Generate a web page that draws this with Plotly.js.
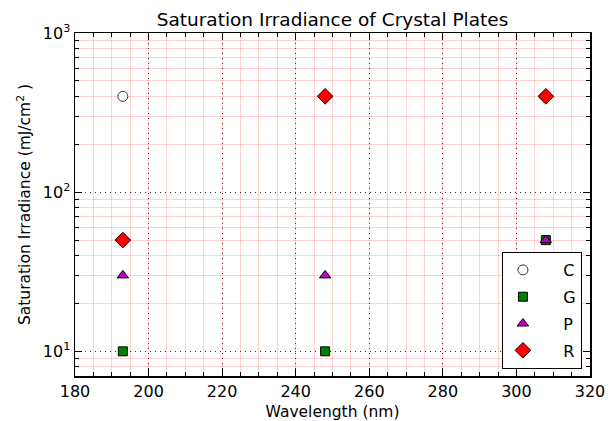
<!DOCTYPE html>
<html><head><meta charset="utf-8">
<script src="https://cdn.plot.ly/plotly-3.0.1.min.js"></script>
<style>html,body{margin:0;padding:0;background:#fff}</style>
</head><body><div id="chart" style="width:611px;height:421px"></div>
<script>
const seriesNames = ['C', 'G', 'P', 'R'];
const cX = [193];
const cY = [400];
const gX = [193, 248, 308];
const gY = [10, 10, 50];
const pX = [193, 248, 308];
const pY = [30, 30, 50];
const rX = [193, 248, 308];
const rY = [50, 400, 400];
const xTickVals = [180, 200, 220, 240, 260, 280, 300, 320];
const yTickVals = [10, 100, 1000];
const yTickText = ['10<sup>1</sup>', '10<sup>2</sup>', '10<sup>3</sup>'];

const yMinor = [];
[1, 10, 100].forEach(d => { for (let k = 2; k <= 9; k++) yMinor.push(k * d); });

const pad = '\u00a0\u00a0\u00a0\u00a0';
const font = 'DejaVu Sans, sans-serif';
const data = [
  {x: cX, y: cY, name: pad + seriesNames[0], legendgroup: 'c', mode: 'markers', type: 'scatter',
   marker: {symbol: 'circle', size: 10, color: 'white', line: {color: '#333', width: 1}}},
  {x: gX, y: gY, name: pad + seriesNames[1], legendgroup: 'g', mode: 'markers', type: 'scatter',
   marker: {symbol: 'square', size: 9, color: 'green', line: {color: 'black', width: 1}}},
  {x: pX, y: pY, name: pad + seriesNames[2], legendgroup: 'p', mode: 'markers', type: 'scatter',
   marker: {symbol: 'triangle-up', size: 10, color: '#bf00bf', line: {color: 'black', width: 1}}},
  {x: rX, y: rY, name: pad + seriesNames[3], legendgroup: 'r', mode: 'markers', type: 'scatter',
   marker: {symbol: 'diamond', size: 12, color: 'red', line: {color: 'black', width: 1}}}
];
const gridCommon = {
  ticks: 'inside', ticklen: 7, tickcolor: 'black', showline: true, linecolor: 'black', linewidth: 1.5,
  mirror: 'allticks', showgrid: true, gridcolor: '#333', griddash: '1px,4px', gridwidth: 1,
  zeroline: false, tickfont: {size: 16}
};
const layout = {
  width: 611, height: 421,
  margin: {l: 75, r: 21, t: 33, b: 45},
  paper_bgcolor: 'white', plot_bgcolor: 'white',
  font: {family: font, color: 'black', size: 15},
  title: {text: 'Saturation Irradiance of Crystal Plates', font: {size: 18.5, family: font},
          xref: 'paper', x: 0.5, xanchor: 'center', y: 0.968, yanchor: 'top'},
  xaxis: Object.assign({}, gridCommon, {
    range: [180, 320], tickvals: xTickVals,
    title: {text: 'Wavelength (nm)', font: {size: 15.5}, standoff: 9},
    minor: {dtick: 5, ticks: 'inside', ticklen: 4, tickcolor: 'black', showgrid: true,
            gridcolor: 'rgba(255,0,0,0.18)', gridwidth: 1, griddash: 'solid'}
  }),
  yaxis: Object.assign({}, gridCommon, {
    type: 'log', range: [Math.log10(7), 3], tickvals: yTickVals, ticktext: yTickText,
    title: {text: 'Saturation Irradiance (mJ/cm<sup>2</sup> )', font: {size: 15.5}, standoff: 8},
    minor: {tickvals: yMinor, ticks: 'inside', ticklen: 4, tickcolor: 'black', showgrid: true,
            gridcolor: 'rgba(255,0,0,0.18)', gridwidth: 1, griddash: 'solid'}
  }),
  showlegend: true,
  legend: {x: 0.829, y: 0.3615, xanchor: 'left', yanchor: 'top', bgcolor: 'white',
           bordercolor: 'black', borderwidth: 1, font: {size: 16}, itemwidth: 30,
           traceorder: 'grouped', tracegroupgap: 3}
};
Plotly.newPlot('chart', data, layout, {displayModeBar: false, staticPlot: true});
</script></body></html>
